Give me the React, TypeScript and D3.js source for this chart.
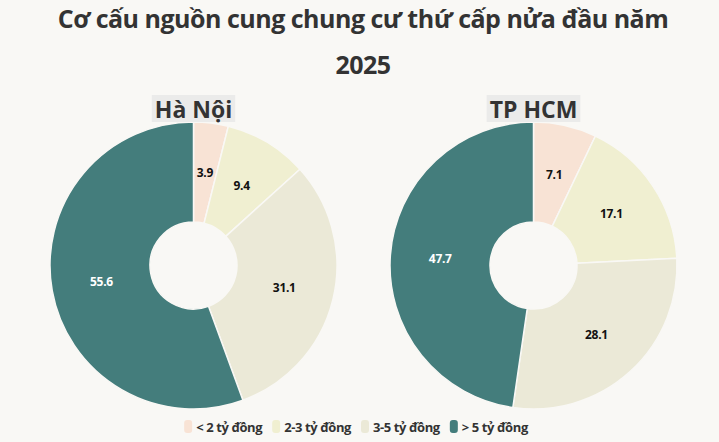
import { useEffect, useRef } from "react"
import * as d3 from "d3"

const categories = ["< 2 tỷ đồng", "2-3 tỷ đồng", "3-5 tỷ đồng", "> 5 tỷ đồng"]
const hanoiValues = [3.9, 9.4, 31.1, 55.6]
const hcmValues = [7.1, 17.1, 28.1, 47.7]
const cities = ["Hà Nội", "TP HCM"]
const titleLines = ["Cơ cấu nguồn cung chung cư thứ cấp nửa đầu năm", "2025"]
const colors = ["#f8e3d5", "#f0efd1", "#ebe9d7", "#447d7c"]

const W = 719
const H = 442
const FONT = "'Open Sans', 'Noto Sans', sans-serif"

const App = () => {
  const ref = useRef<SVGSVGElement>(null)

  useEffect(() => {
    document.body.style.margin = "0"
    const svg = d3.select(ref.current)
    svg.selectAll("*").remove()

    svg.append("rect").attr("width", W).attr("height", H).attr("fill", "#f9f8f5")

    // title
    svg
      .selectAll("text.title")
      .data(titleLines)
      .join("text")
      .attr("class", "title")
      .attr("x", 363)
      .attr("y", (_, i) => 28 + i * 46)
      .attr("text-anchor", "middle")
      .attr("font-family", FONT)
      .attr("font-weight", 700)
      .attr("font-size", 25)
      .attr("letter-spacing", -0.5)
      .attr("fill", "#333")
      .text((d) => d)

    const color = d3.scaleOrdinal<string, string>().domain(categories).range(colors)
    const pie = d3
      .pie<number>()
      .sort(null)
      .value((d) => d)
    const arc = d3.arc<d3.PieArcDatum<number>>().innerRadius(43.5).outerRadius(143.5)
    const centers = d3.scalePoint<string>().domain(cities).range([193.5, 533.5])

    ;[hanoiValues, hcmValues].forEach((vals, k) => {
      const cx = centers(cities[k]) as number
      const g = svg.append("g").attr("transform", `translate(${cx},265.5)`)
      const arcs = pie(vals)
      g.selectAll("path")
        .data(arcs)
        .join("path")
        .attr("d", arc)
        .attr("fill", (_, i) => color(categories[i]))
        .attr("stroke", "#f9f8f5")
        .attr("stroke-width", 1.5)
      g.selectAll("text")
        .data(arcs)
        .join("text")
        .attr("transform", (d) => `translate(${arc.centroid(d)})`)
        .attr("text-anchor", "middle")
        .attr("dy", "0.35em")
        .attr("font-family", FONT)
        .attr("font-weight", 700)
        .attr("font-size", 12)
        .attr("letter-spacing", -0.3)
        .attr("fill", (_, i) => (i === 3 ? "#fff" : "#111"))
        .text((d) => d.data.toFixed(1))

      // city label with gray box
      const lg = svg.append("g")
      const t = lg
        .append("text")
        .attr("x", cx)
        .attr("y", 118)
        .attr("text-anchor", "middle")
        .attr("font-family", FONT)
        .attr("font-weight", 700)
        .attr("font-size", 23)
        .attr("fill", "#333")
        .text(cities[k])
      const tw = (t.node() as SVGTextElement).getComputedTextLength()
      lg.insert("rect", "text")
        .attr("x", cx - tw / 2 - 3)
        .attr("y", 95)
        .attr("width", tw + 6)
        .attr("height", 27)
        .attr("fill", "#ebebea")
    })

    // legend
    const leg = svg.append("g")
    let x = 0
    categories.forEach((c) => {
      const item = leg.append("g").attr("transform", `translate(${x},0)`)
      item
        .append("rect")
        .attr("x", 0)
        .attr("y", -7)
        .attr("width", 8)
        .attr("height", 13)
        .attr("rx", 3)
        .attr("fill", color(c))
      const t = item
        .append("text")
        .attr("x", 12)
        .attr("dy", "0.35em")
        .attr("font-family", FONT)
        .attr("font-weight", 700)
        .attr("font-size", 13)
        .attr("letter-spacing", -0.4)
        .attr("fill", "#333")
        .text(c)
      x += 12 + (t.node() as SVGTextElement).getComputedTextLength() + 10
    })
    const total = x - 10
    leg.attr("transform", `translate(${356 - total / 2},427)`)
  }, [])

  return <svg ref={ref} width={W} height={H} style={{ display: "block" }} />
}

export default App
